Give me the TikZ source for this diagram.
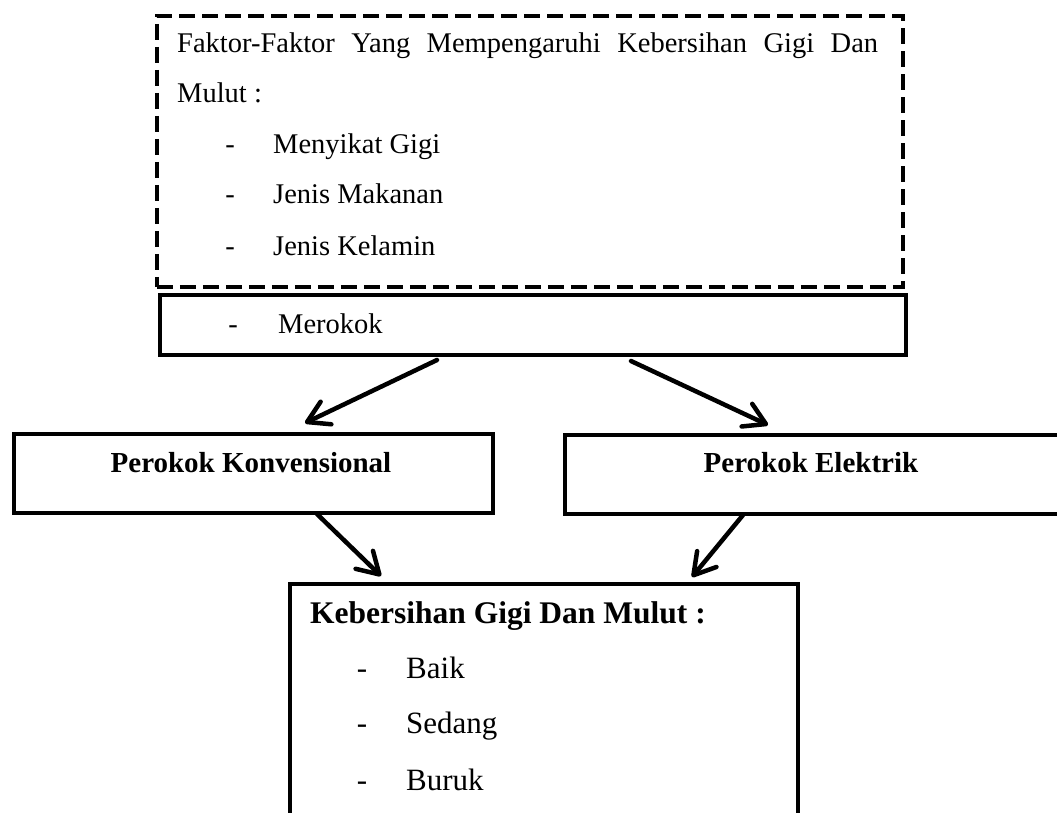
\documentclass[tikz,border=0pt]{standalone}
\usepackage{fontspec}
\setmainfont{Liberation Serif}
\usetikzlibrary{arrows.meta}
\begin{document}
\begin{tikzpicture}[x=1pt,y=-1pt,
  solidbox/.style={draw, line width=3.8pt, rectangle, inner sep=0pt, anchor=north west},
  dashbox/.style={draw, line width=3.8pt, rectangle, inner sep=0pt, anchor=north west, dash pattern=on 16pt off 7pt},
  txt/.style={inner sep=0pt, anchor=base west, font=\fontsize{28.5}{34}\selectfont},
  hy/.style={inner sep=0pt, anchor=base, font=\fontsize{28.5}{34}\selectfont},
  boldtxt/.style={inner sep=0pt, anchor=base, font=\fontsize{29}{34}\selectfont\bfseries},
  bigtxt/.style={inner sep=0pt, anchor=base west, font=\fontsize{31}{36}\selectfont},
  bighy/.style={inner sep=0pt, anchor=base, font=\fontsize{31}{36}\selectfont},
  arr/.style={line width=4.5pt, line cap=round, -{Straight Barb[length=21pt,width=25pt,round]}}]
\useasboundingbox (0,0) rectangle (1057,812);
\clip (0,0) rectangle (1057,812);

% boxes
\node[dashbox, minimum width=746pt, minimum height=271pt] (factors) at (155,14) {};
\node[solidbox, minimum width=746pt, minimum height=60pt] (merokok) at (158,293) {};
\node[solidbox, minimum width=479pt, minimum height=79pt] (konv) at (12,432) {};
\node[solidbox, minimum width=496pt, minimum height=79pt] (elek) at (563,433) {};
\node[solidbox, minimum width=508pt, minimum height=290pt] (hasil) at (288,582) {};

% top box text
\node[txt] (f1) at (177,52) {\makebox[701pt][s]{Faktor-Faktor Yang Mempengaruhi Kebersihan Gigi Dan}};
\node[txt] (f2) at (177,102) {Mulut :};
\node[hy] (h1) at (230,153) {-};
\node[txt] (i1) at (273,153) {Menyikat Gigi};
\node[hy] (h2) at (230,203) {-};
\node[txt] (i2) at (273,203) {Jenis Makanan};
\node[hy] (h3) at (230,255) {-};
\node[txt] (i3) at (273,255) {Jenis Kelamin};

% merokok
\node[hy] (h4) at (233,333) {-};
\node[txt] (m1) at (278,333) {Merokok};

% middle boxes text
\node[boldtxt] (k1) at (251,472) {Perokok Konvensional};
\node[boldtxt] (e1) at (811,472) {Perokok Elektrik};

% bottom box text
\node[inner sep=0pt, anchor=base west, font=\fontsize{31.5}{36}\selectfont\bfseries] (b0) at (310,623) {Kebersihan Gigi Dan Mulut :};
\node[bighy] (h5) at (362,678) {-};
\node[bigtxt] (b1) at (406,678) {Baik};
\node[bighy] (h6) at (362,733) {-};
\node[bigtxt] (b2) at (406,733) {Sedang};
\node[bighy] (h7) at (362,790) {-};
\node[bigtxt] (b3) at (406,790) {Buruk};

% arrow end points
\coordinate (a1s) at (437,360);
\coordinate (a1e) at (305,423);
\coordinate (a2s) at (631,361);
\coordinate (a2e) at (768,425);
\coordinate (a3s) at (317,514);
\coordinate (a3e) at (381,576);
\coordinate (a4s) at (743,515);
\coordinate (a4e) at (692,577);

\draw[arr] (a1s) -- (a1e);
\draw[arr] (a2s) -- (a2e);
\draw[arr] (a3s) -- (a3e);
\draw[arr] (a4s) -- (a4e);
\end{tikzpicture}
\end{document}
